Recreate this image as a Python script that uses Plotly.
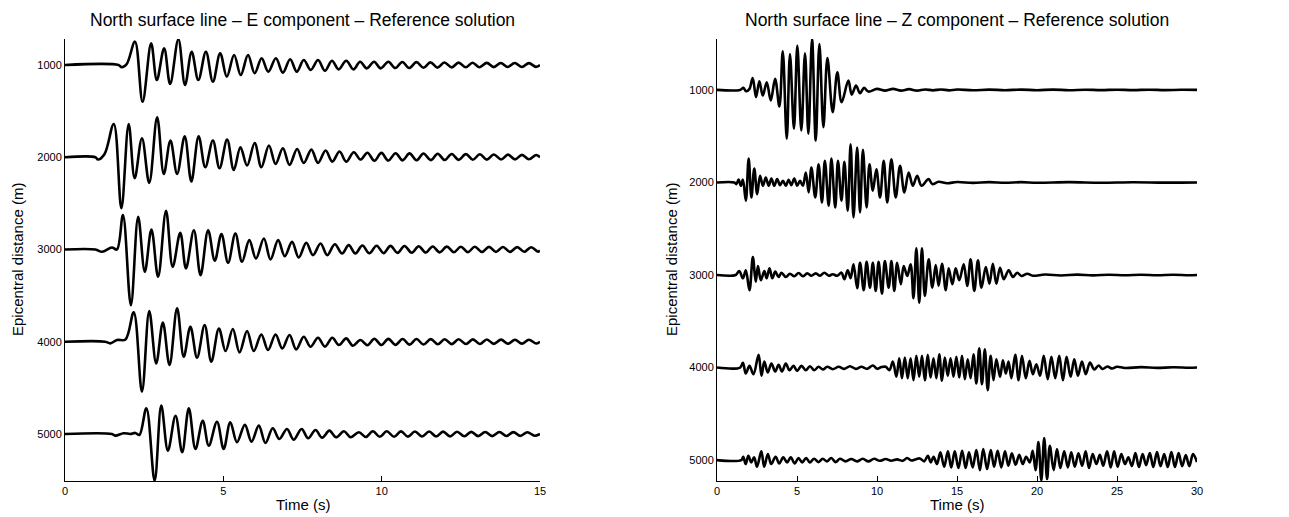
import plotly.graph_objects as go

distances = [1000, 2000, 3000, 4000, 5000]

# ---------------- E component (time in s, amplitude in m, positive = upward) ----------------
e1_t = [0, 1.69, 1.79, 1.95, 2.21, 2.45, 2.72, 2.90, 3.13, 3.32, 3.58, 3.79, 4.00, 4.21, 4.45, 4.67, 4.90, 5.11, 5.34, 5.55,
        5.78, 5.99, 6.21, 6.42, 6.66, 6.88, 7.11, 7.32, 7.54, 7.76, 7.99, 8.21, 8.43, 8.64, 8.88, 9.11, 9.32, 9.53, 9.76, 9.97,
        10.21, 10.43, 10.65, 10.87, 11.10, 11.32, 11.54, 11.76, 11.98, 12.21, 12.43, 12.65, 12.87, 13.09, 13.32, 13.54,
        13.76, 13.98, 14.20, 14.43, 14.65, 14.87, 15.0]
e1_a = [0, 0, -25, 11, 253, -398, 235, -163, 181, -206, 279, -217, 144, -163, 144, -181, 127, -127, 108, -108,
        108, -90, 73, -73, 73, -83, 62, -73, 54, -54, 54, -62, 47, -47, 47, -47, 36, -36, 36, -36,
        36, -33, 33, -32, 31, -30, 29, -28, 27, -26, 26, -25, 24, -24, 23, -23,
        22, -22, 21, -21, 20, -20, 0]

e2_t = [0, 0.96, 1.04, 1.25, 1.54, 1.78, 2.01, 2.20, 2.43, 2.66, 2.91, 3.12, 3.33, 3.54, 3.78, 3.99, 4.22, 4.43, 4.67, 4.88,
        5.12, 5.33, 5.54, 5.75, 5.99, 6.20, 6.44, 6.65, 6.88, 7.09, 7.33, 7.54, 7.78, 7.99, 8.23, 8.44, 8.67, 8.88, 9.12, 9.33,
        9.55, 9.77, 9.99, 10.21, 10.44, 10.66, 10.88, 11.10, 11.32, 11.55, 11.77, 11.99, 12.21, 12.43, 12.66, 12.88,
        13.10, 13.32, 13.54, 13.77, 13.99, 14.21, 14.43, 14.65, 14.88, 15.0]
e2_a = [0, 0, -25, 36, 361, -553, 361, -228, 206, -279, 434, -181, 181, -181, 228, -263, 228, -108, 181, -119,
        192, -138, 108, -90, 155, -108, 127, -73, 98, -83, 90, -62, 83, -62, 73, -47, 62, -47, 54, -25,
        49, -38, 47, -36, 44, -34, 42, -33, 40, -31, 38, -30, 36, -28, 34, -27,
        32, -26, 30, -24, 28, -23, 26, -22, 25, 0]

e3_t = [0, 0.96, 1.17, 1.48, 1.64, 1.83, 2.08, 2.31, 2.52, 2.73, 2.94, 3.19, 3.40, 3.64, 3.82, 4.07, 4.28, 4.52, 4.73, 4.94,
        5.15, 5.38, 5.59, 5.82, 6.03, 6.28, 6.49, 6.73, 6.94, 7.17, 7.38, 7.62, 7.83, 8.07, 8.28, 8.52, 8.75, 8.96, 9.17,
        9.39, 9.61, 9.84, 10.06, 10.28, 10.50, 10.72, 10.95, 11.17, 11.39, 11.61, 11.83, 12.06, 12.28, 12.50, 12.72,
        12.94, 13.17, 13.39, 13.61, 13.83, 14.05, 14.28, 14.50, 14.72, 14.94, 15.0]
e3_a = [0, 0, -25, 22, 0, 372, -604, 354, -242, 217, -296, 420, -188, 181, -206, 209, -279, 209, -122, 166,
        -144, 173, -133, 101, -98, 119, -108, 101, -73, 83, -87, 73, -62, 65, -62, 57, -43, 47, -43,
        43, -41, 41, -39, 39, -37, 37, -35, 35, -33, 33, -31, 31, -30, 30, -29,
        29, -28, 28, -27, 27, -26, 26, -25, 25, -24, -10]

e4_t = [0, 1.27, 1.43, 1.64, 1.91, 2.17, 2.43, 2.66, 2.88, 3.09, 3.30, 3.54, 3.75, 3.96, 4.17, 4.41, 4.62, 4.86, 5.07, 5.30,
        5.51, 5.75, 5.96, 6.20, 6.41, 6.65, 6.86, 7.09, 7.30, 7.54, 7.75, 7.99, 8.21, 8.44, 8.65, 8.88, 9.09, 9.33,
        9.55, 9.77, 9.99, 10.21, 10.44, 10.66, 10.88, 11.10, 11.32, 11.55, 11.77, 11.99, 12.21, 12.43, 12.66, 12.88,
        13.10, 13.32, 13.54, 13.77, 13.99, 14.21, 14.43, 14.65, 14.88, 15.0]
e4_a = [0, 0, -18, 18, 25, 318, -542, 333, -235, 209, -253, 361, -163, 163, -173, 181, -217, 144, -101, 138,
        -116, 116, -101, 79, -90, 79, -73, 73, -83, 54, -54, 43, -54, 43, -36, 36, -43, 18,
        -38, 32, -36, 31, -34, 30, -32, 29, -30, 28, -28, 27, -26, 26, -25, 25,
        -24, 24, -23, 23, -22, 22, -21, 21, -20, 0]

e5_t = [0, 1.48, 1.59, 1.85, 2.06, 2.22, 2.35, 2.57, 2.83, 3.04, 3.25, 3.49, 3.70, 3.91, 4.12, 4.35, 4.54, 4.80, 5.01, 5.22,
        5.43, 5.68, 5.89, 6.12, 6.33, 6.56, 6.77, 7.01, 7.22, 7.47, 7.68, 7.91, 8.12, 8.35, 8.56, 8.81, 9.02, 9.28,
        9.50, 9.72, 9.94, 10.16, 10.39, 10.61, 10.83, 11.05, 11.27, 11.50, 11.72, 11.94, 12.16, 12.38, 12.61, 12.83,
        13.05, 13.27, 13.49, 13.72, 13.94, 14.16, 14.38, 14.60, 14.83, 15.0]
e5_a = [0, 0, -18, 8, 0, 11, -11, 279, -506, 307, -181, 198, -198, 279, -163, 144, -127, 133, -163, 127,
        -90, 98, -83, 90, -98, 62, -54, 54, -62, 54, -47, 43, -40, 36, -36, 29, -36, 18,
        -33, 30, -31, 29, -30, 28, -29, 27, -28, 26, -27, 25, -26, 24, -25, 23,
        -24, 22, -23, 21, -22, 20, -21, 19, -20, 0]

# ---------------- Z component ----------------
z1_t = [0, 1.44, 1.65, 1.81, 2.02, 2.23, 2.44, 2.65, 2.86, 3.11, 3.36, 3.63, 3.90, 4.11, 4.36, 4.56, 4.81, 5.02, 5.27, 5.50,
        5.71, 5.94, 6.17, 6.40, 6.65, 6.90, 7.23, 7.52, 7.79, 8.21, 8.42, 8.69, 8.94, 9.19, 9.46,
        10.0, 10.5, 11.0, 11.5, 12.0, 12.5, 13.0, 13.5, 14.0, 14.5, 15, 16, 17, 18, 19, 20,
        21, 22, 23, 24, 25, 26, 27, 28, 29, 30]
z1_a = [0, 0, 22, -14, 8, 129, -79, 94, -61, 83, -115, 119, -180, 417, -528, 388, -420, 478, -439, 396,
        -474, 550, -547, 496, -402, 345, -240, 191, -133, 100, -51, 46, -36, 22, -18,
        11, -8, 11, -8, 8, -8, 5, -5, 5, -5, 4, -4, 3, -3, 3, -3,
        3, -3, 2, -2, 2, -2, 2, -2, 1, 0]

z2_t = [0, 1.08, 1.21, 1.35, 1.49, 1.62, 1.80, 1.98, 2.15, 2.33, 2.51, 2.69, 2.87, 3.05, 3.23, 3.40, 3.58, 3.76, 3.94, 4.12,
        4.30, 4.48, 4.65, 4.83, 5.01, 5.19, 5.37, 5.55, 5.73, 5.90, 6.14, 6.35, 6.56, 6.74, 6.98, 7.15, 7.39, 7.56, 7.78, 7.96,
        8.17, 8.35, 8.53, 8.76, 8.94, 9.12, 9.35, 9.53, 9.74, 9.96, 10.19, 10.42, 10.64, 10.90, 11.17, 11.44, 11.71, 11.98,
        12.24, 12.51, 12.78, 13.22, 13.46, 13.85, 14.39, 15, 16, 17, 18, 19, 20, 22, 24, 26, 28, 30]
z2_a = [0, 0, -18, 32, -36, 30, -197, 259, -162, 151, -126, 72, -36, 54, -36, 43, -36, 36, -29, 18,
        -36, 29, -29, 43, -36, 18, -36, 108, -108, 162, -162, 197, -216, 234, -251, 259, -270, 234, -197, 223,
        -305, 413, -377, 377, -323, 352, -270, 197, -89, 143, -162, 234, -216, 251, -162, 180, -108, 108,
        -36, 72, -36, 36, -18, 8, -8, 5, -5, 4, -4, 3, -3, 3, -3, 2, -2, 0]

z3_t = [0, 1.17, 1.39, 1.62, 1.80, 2.03, 2.24, 2.42, 2.56, 2.74, 2.96, 3.10, 3.28, 3.46, 3.64, 3.85, 4.03, 4.30, 4.56, 4.83,
        5.10, 5.37, 5.64, 5.90, 6.17, 6.44, 6.71, 6.98, 7.24, 7.51, 7.78, 7.96, 8.17, 8.35, 8.53, 8.76, 8.94, 9.17, 9.35, 9.56,
        9.74, 9.92, 10.10, 10.31, 10.49, 10.73, 10.90, 11.08, 11.26, 11.49, 11.67, 11.89, 12.10, 12.28, 12.46, 12.64, 12.81,
        12.99, 13.23, 13.46, 13.67, 13.85, 14.06, 14.30, 14.48, 14.71, 14.92, 15.14, 15.42, 15.64, 15.85, 16.08, 16.31, 16.53,
        16.80, 17.03, 17.24, 17.46, 17.69, 17.92, 18.23, 18.49, 18.76, 19.03, 19.39, 19.74,
        20.5, 21.5, 22.5, 23.5, 24.5, 25.5, 26.5, 27.5, 28.5, 29.5, 30]
z3_a = [0, 0, 43, -36, 51, -165, 194, -72, 97, -57, 43, -36, 72, -36, 36, -22, 25, -22, 14, -14,
        22, -14, 18, -8, 18, -8, 25, -8, 8, -8, 25, -46, 51, -36, 115, -143, 133, -165, 143, -137,
        133, -172, 143, -202, 151, -137, 151, -172, 133, -100, 97, -11, 115, -251, 288, -299, 288,
        -226, 169, -137, 108, -119, 122, -165, 72, -100, 72, -57, 115, -119, 169, -172, 158, -137,
        86, -94, 122, -94, 79, -46, 51, -22, 25, -11, 14, -8,
        5, -5, 4, -4, 3, -3, 3, -3, 2, -2, 0]

z4_t = [0, 1.44, 1.62, 1.80, 2.03, 2.28, 2.60, 2.78, 2.96, 3.17, 3.40, 3.64, 3.85, 4.06, 4.30, 4.53, 4.78, 5.01, 5.28, 5.55,
        5.81, 6.08, 6.35, 6.62, 6.89, 7.24, 7.60, 7.96, 8.31, 8.67, 9.03, 9.39, 9.74, 10.01, 10.28, 10.55, 10.78, 10.99,
        11.21, 11.39, 11.56, 11.74, 11.92, 12.10, 12.28, 12.46, 12.64, 12.81, 12.99, 13.17, 13.35, 13.53, 13.71, 13.89,
        14.06, 14.24, 14.42, 14.60, 14.78, 14.96, 15.14, 15.31, 15.49, 15.67, 15.85, 16.03, 16.21, 16.39, 16.56, 16.74,
        16.92, 17.10, 17.28, 17.46, 17.69, 17.87, 18.05, 18.22, 18.40, 18.64, 18.85, 19.06, 19.30, 19.53, 19.74, 19.96,
        20.19, 20.42, 20.67, 20.90, 21.14, 21.39, 21.62, 21.85, 22.10, 22.33, 22.56, 22.81, 23.05, 23.31, 23.58, 23.85,
        24.10, 24.40, 24.70, 25.00, 25.50, 26.5, 27.5, 28.5, 29.5, 30]
z4_a = [0, 0, 51, -65, 18, -72, 137, -89, 65, -54, 43, -43, 29, -43, 43, -29, 18, -36, 18, -29,
        14, -29, 8, -22, 8, -18, 8, -14, 14, -14, 8, -14, 22, -14, 5, 8, -29, 65,
        -100, 100, -115, 108, -115, 100, -137, 126, -100, 126, -137, 137, -108, 100, -115, 143,
        -143, 108, -89, 100, -100, 115, -108, 126, -126, 89, -115, 143, -172, 208, -180, 197,
        -245, 126, -137, 89, -100, 79, -65, 65, -115, 137, -137, 126, -115, 72, -72, 36,
        -89, 126, -126, 115, -115, 126, -137, 115, -100, 89, -89, 65, -72, 54, -22, 22,
        -16, 11, -11, 8, -5, 4, -4, 3, -2, 0]

z5_t = [0, 1.52, 1.64, 1.79, 1.96, 2.14, 2.32, 2.50, 2.77, 2.95, 3.18, 3.39, 3.66, 3.89, 4.14, 4.38, 4.61, 4.86, 5.09, 5.32,
        5.57, 5.80, 6.07, 6.34, 6.61, 6.88, 7.14, 7.41, 7.68, 8.04, 8.39, 8.75, 9.11, 9.46, 9.82, 10.18, 10.54, 10.89, 11.25,
        11.61, 11.88, 12.15, 12.45, 12.68, 12.95, 13.18, 13.36, 13.54, 13.75, 13.96, 14.20, 14.43, 14.64, 14.86, 15.09,
        15.32, 15.54, 15.75, 15.98, 16.21, 16.43, 16.64, 16.88, 17.11, 17.32, 17.54, 17.77, 18.00, 18.21, 18.43, 18.66,
        18.89, 19.11, 19.32, 19.55, 19.73, 19.91, 20.09, 20.27, 20.45, 20.63, 20.80, 21.04, 21.25, 21.46, 21.70, 21.93,
        22.14, 22.36, 22.59, 22.82, 23.04, 23.25, 23.48, 23.71, 23.93, 24.14, 24.38, 24.61, 24.82, 25.04, 25.27, 25.50,
        25.71, 25.93, 26.15, 26.37, 26.60, 26.82, 27.05, 27.27, 27.50, 27.72, 27.95, 28.17, 28.40, 28.62, 28.85, 29.07,
        29.30, 29.52, 29.75, 30.0]
z5_a = [0, 0, 36, -43, 46, -25, 29, -72, 94, -72, 65, -43, 36, -36, 29, -25, 29, -36, 22, -25,
        22, -25, 14, -22, 14, -14, 22, -22, 14, -14, 11, -14, 14, -14, 14, -8, 11, -8, 8,
        -8, 22, -5, 10, 18, -14, 46, -25, 36, -43, 83, -72, 94, -79, 94, -86,
        100, -86, 83, -79, 108, -108, 119, -97, 108, -72, 100, -79, 94, -61, 72, -51,
        57, -43, 36, -25, 100, -108, 194, -219, 237, -205, 154, -108, 119, -86, 94, -79,
        83, -72, 72, -61, 94, -86, 65, -43, 57, -61, 94, -79, 94, -72, 65, -43,
        29, -65, 75, -75, 65, -54, 75, -75, 86, -65, 65, -75, 86, -75, 75, -65,
        54, -65, 65, -22]

e_series = [(e1_t, e1_a), (e2_t, e2_a), (e3_t, e3_a), (e4_t, e4_a), (e5_t, e5_a)]
z_series = [(z1_t, z1_a), (z2_t, z2_a), (z3_t, z3_a), (z4_t, z4_a), (z5_t, z5_a)]

FONT = "Liberation Sans, Arial, Helvetica, sans-serif"
# the page body adds an 8 px margin, so the figure is 8 px smaller and page coordinates are shifted by 8
OFF = 8
W, H = 1289 - OFF, 517 - OFF
LINE = dict(color="black", width=2.6, shape="spline", smoothing=1.0)


def px(xp):
    return (xp - OFF) / W


def py(yp):
    return 1 - (yp - OFF) / H


fig = go.Figure()
for (t, a), d in zip(e_series, distances):
    fig.add_trace(go.Scatter(x=t, y=[d - v for v in a], mode="lines", xaxis="x", yaxis="y",
                             line=LINE, showlegend=False, hoverinfo="skip"))
for (t, a), d in zip(z_series, distances):
    fig.add_trace(go.Scatter(x=t, y=[d - v for v in a], mode="lines", xaxis="x2", yaxis="y2",
                             line=LINE, showlegend=False, hoverinfo="skip"))

axis_common = dict(showline=True, linecolor="black", linewidth=1, ticks="inside", ticklen=5,
                   tickcolor="black", showgrid=False, zeroline=False, mirror=False, automargin=False,
                   tickfont=dict(family=FONT, size=11, color="black"))

ydom = [py(481), py(39)]
fig.update_layout(
    width=W, height=H, margin=dict(l=0, r=0, t=0, b=0, pad=0),
    paper_bgcolor="white", plot_bgcolor="white",
    xaxis=dict(domain=[px(65), px(540)], range=[0, 15], tickvals=[0, 5, 10, 15], anchor="y",
               ticklabelstandoff=0, **axis_common),
    yaxis=dict(domain=ydom, range=[5510, 718], tickvals=distances, anchor="x", **axis_common),
    xaxis2=dict(domain=[px(717), px(1197)], range=[0, 30], tickvals=[0, 5, 10, 15, 20, 25, 30], anchor="y2",
                ticklabelstandoff=0, **axis_common),
    yaxis2=dict(domain=ydom, range=[5226, 450], tickvals=distances, anchor="x2", **axis_common),
)

ann = []
for cx, comp in ((302.5, "E"), (957, "Z")):
    ann.append(dict(text="North surface line \u2013 %s component \u2013 Reference solution" % comp,
                    x=px(cx), y=py(19.5), xref="paper", yref="paper", xanchor="center", yanchor="middle",
                    showarrow=False, font=dict(family=FONT, size=17.5, color="black")))
    ann.append(dict(text="Time (s)", x=px(cx), y=py(504), xref="paper", yref="paper",
                    xanchor="center", yanchor="middle", showarrow=False,
                    font=dict(family=FONT, size=15, color="black")))
for cx in (18, 672):
    ann.append(dict(text="Epicentral distance (m)", x=px(cx), y=py(260), xref="paper", yref="paper",
                    xanchor="center", yanchor="middle", showarrow=False, textangle=-90,
                    font=dict(family=FONT, size=15, color="black")))
fig.update_layout(annotations=ann)

fig.write_html("out.html")
